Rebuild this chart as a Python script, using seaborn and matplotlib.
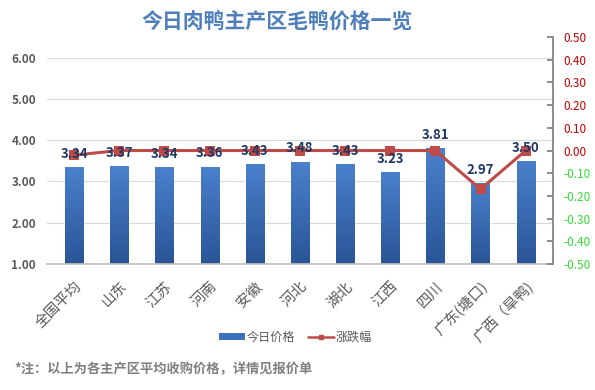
import numpy as np
import matplotlib
matplotlib.use("Agg")
import matplotlib.pyplot as plt
import seaborn as sns
from matplotlib.patches import Patch
from matplotlib.lines import Line2D
from matplotlib.colors import LinearSegmentedColormap

# ---------------------------------------------------------------------------
# Data
# ---------------------------------------------------------------------------
regions = ["全国平均", "山东", "江苏", "河南", "安徽", "河北", "湖北", "江西",
           "四川", "广东(塘口)", "广西（旱鸭)"]
prices = [3.34, 3.37, 3.34, 3.36, 3.43, 3.48, 3.43, 3.23, 3.81, 2.97, 3.50]
changes = [-0.02, 0.00, 0.00, 0.00, 0.00, 0.00, 0.00, 0.00, 0.00, -0.17, 0.00]
left_ticks = [1, 2, 3, 4, 5, 6]
right_ticks = [-0.5, -0.4, -0.3, -0.2, -0.1, 0.0, 0.1, 0.2, 0.3, 0.4, 0.5]

BAR_COLOR = "#3b70bd"
LINE_COLOR = "#be4b48"
GRAY = "#595959"

sns.set_theme(style="white")
plt.rcParams["font.family"] = ["Noto Sans CJK SC", "DejaVu Sans"]

fig = plt.figure(figsize=(5.95, 3.9), dpi=100)
ax = fig.add_axes([0.079, 0.323, 0.850, 0.582])

# --- bars (price) ---
sns.barplot(x=regions, y=prices, ax=ax, color=BAR_COLOR, width=0.4,
            saturation=1, zorder=2)

# vertical gradient on each bar
cmap = LinearSegmentedColormap.from_list("bar", ["#2a5597", "#4a80cc"])
grad = np.linspace(0, 1, 64).reshape(-1, 1)
for p in ax.patches:
    x0, y0 = p.get_x(), p.get_y()
    w, h = p.get_width(), p.get_height()
    im = ax.imshow(grad, cmap=cmap, aspect="auto", origin="lower",
                   extent=[x0, x0 + w, 1.0, y0 + h], zorder=2.1)
    im.set_clip_path(p)

ax.set_xlim(-0.6, len(regions) - 0.4)
ax.set_ylim(1, 6.5)
ax.set_yticks(left_ticks)
ax.set_yticklabels([f"{t:.2f}" for t in left_ticks], fontsize=8.5,
                   color=GRAY, fontweight="bold")
ax.yaxis.grid(True, color="#d9d9d9", linewidth=0.8, zorder=0)
ax.set_axisbelow(True)
ax.tick_params(axis="y", length=0, pad=8)
ax.tick_params(axis="x", length=0, pad=11)
ax.set_xticks(range(len(regions)))
ax.set_xticklabels(regions, rotation=45, ha="right", rotation_mode="anchor",
                   fontsize=10.5, color=GRAY)
for s in ["top", "left", "right"]:
    ax.spines[s].set_visible(False)
ax.spines["bottom"].set_color("#bfbfbf")
ax.set_xlabel("")
ax.set_ylabel("")

# --- line (change) ---
ax2 = ax.twinx()
sns.lineplot(x=np.arange(len(regions)), y=changes, ax=ax2, color=LINE_COLOR,
             linewidth=2.2, marker="s", markersize=7.5, markeredgewidth=0,
             zorder=4)
ax2.set_ylim(-0.5, 0.5)
ax2.set_yticks(right_ticks)
ax2.set_yticklabels([f"{t:.2f}" for t in right_ticks], fontsize=8.5)
for lbl, t in zip(ax2.get_yticklabels(), right_ticks):
    lbl.set_color("#c00000" if t >= 0 else "#33dd33")
ax2.tick_params(axis="y", direction="in", length=4, color="#808080", pad=8,
                right=True)
for s in ["top", "left", "bottom"]:
    ax2.spines[s].set_visible(False)
ax2.spines["right"].set_color("#808080")
ax2.grid(False)
ax2.set_ylabel("")

# price labels drawn on the top axes so they sit over the line
for i, v in enumerate(prices):
    ax2.annotate(f"{v:.2f}", (i, v), xycoords=ax.transData, xytext=(0, 9.5),
                 textcoords="offset points", ha="center", va="center",
                 fontsize=9.5, fontweight="bold", color="#1f3864", zorder=6)

# --- legend ---
handles = [Patch(facecolor=BAR_COLOR, edgecolor="none"),
           Line2D([0], [0], color=LINE_COLOR, linewidth=1.8, marker="s",
                  markersize=3.5)]
fig.legend(handles, ["今日价格", "涨跌幅"], loc="center",
           bbox_to_anchor=(0.497, 0.136), ncol=2, frameon=False,
           fontsize=8.7, handlelength=2.15, handleheight=0.5,
           columnspacing=1.1, handletextpad=0.1, labelcolor=GRAY)

# --- title and note ---
fig.text(0.465, 0.944, "今日肉鸭主产区毛鸭价格一览", ha="center", va="center",
         fontsize=15, fontweight="bold", color="#4f7fba")
fig.text(0.024, 0.054, "*注：以上为各主产区平均收购价格，详情见报价单",
         ha="left", va="center", fontsize=9.5, fontweight="bold",
         color="#7f7f7f")

fig.savefig("out.png", dpi=100)
